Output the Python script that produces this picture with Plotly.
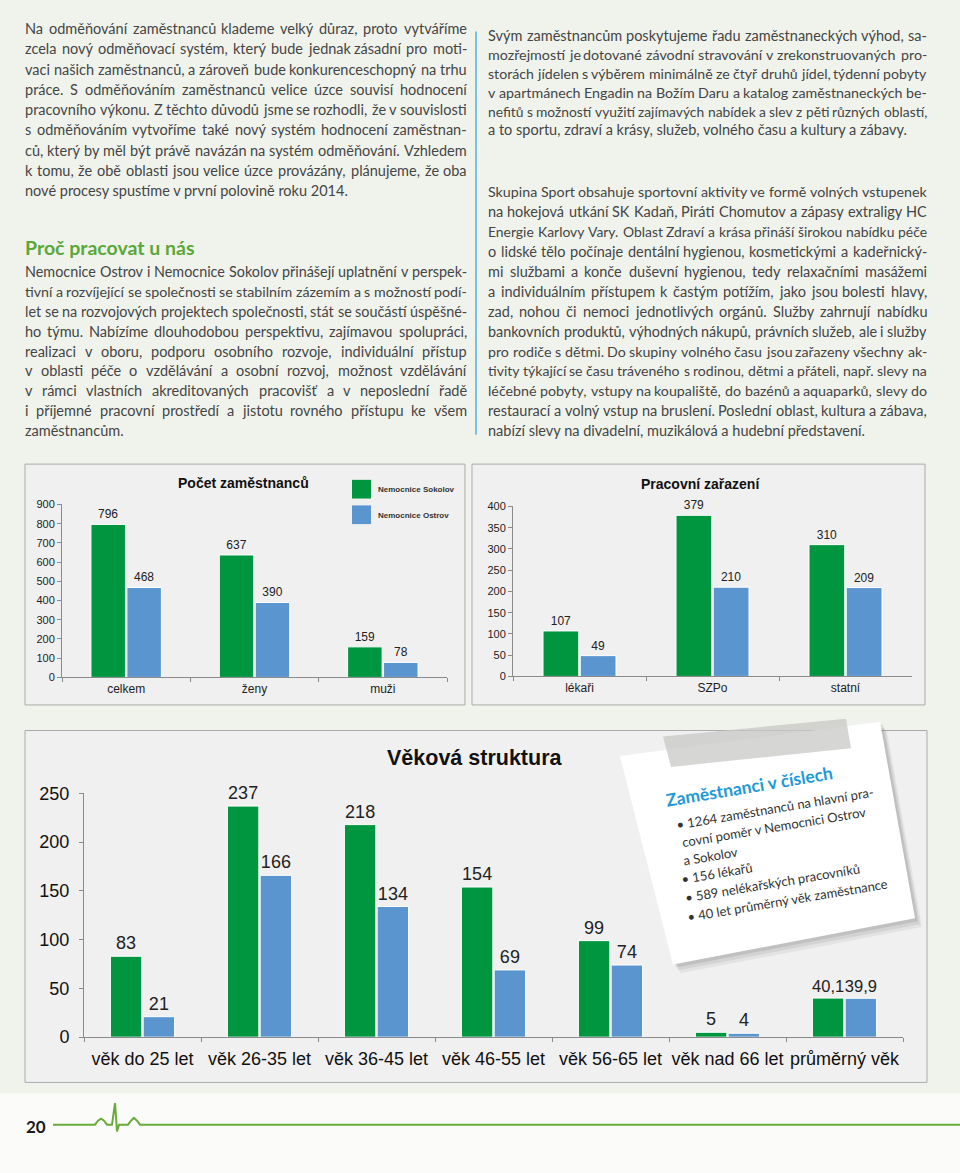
import math
import glob
import os
import struct
import subprocess
import plotly.graph_objects as go

W, H = 960, 1173

# ---------------- data ----------------
c1_categories = ["celkem", "ženy", "muži"]
c1_sokolov = [796, 637, 159]
c1_ostrov = [468, 390, 78]

c2_categories = ["lékaři", "SZPo", "statní"]
c2_sokolov = [107, 379, 310]
c2_ostrov = [49, 210, 209]

c3_categories = ["věk do 25 let", "věk 26-35 let", "věk 36-45 let", "věk 46-55 let",
                 "věk 56-65 let", "věk nad 66 let", "průměrný věk"]
c3_sokolov = [83, 237, 218, 154, 99, 5, 40.1]
c3_ostrov = [21, 166, 134, 69, 74, 4, 39.9]

series_names = ["Nemocnice Sokolov", "Nemocnice Ostrov"]

left_par1 = [
    "Na odměňování zaměstnanců klademe velký důraz, proto vytváříme",
    "zcela nový odměňovací systém, který bude jednak zásadní pro moti-",
    "vaci našich zaměstnanců, a zároveň bude konkurenceschopný na trhu",
    "práce. S odměňováním zaměstnanců velice úzce souvisí hodnocení",
    "pracovního výkonu. Z těchto důvodů jsme se rozhodli, že v souvislosti",
    "s odměňováním vytvoříme také nový systém hodnocení zaměstnan-",
    "ců, který by měl být právě navázán na systém odměňování. Vzhledem",
    "k tomu, že obě oblasti jsou velice úzce provázány, plánujeme, že oba",
    "nové procesy spustíme v první polovině roku 2014.",
]
left_heading = "Proč pracovat u nás"
left_par2 = [
    "Nemocnice Ostrov i Nemocnice Sokolov přinášejí uplatnění v perspek-",
    "tivní a rozvíjející se společnosti se stabilním zázemím a s možností podí-",
    "let se na rozvojových projektech společnosti, stát se součástí úspěšné-",
    "ho týmu. Nabízíme dlouhodobou perspektivu, zajímavou spolupráci,",
    "realizaci v oboru, podporu osobního rozvoje, individuální přístup",
    "v oblasti péče o vzdělávání a osobní rozvoj, možnost vzdělávání",
    "v rámci vlastních akreditovaných pracovišť a v neposlední řadě",
    "i příjemné pracovní prostředí a jistotu rovného přístupu ke všem",
    "zaměstnancům.",
]
right_par1 = [
    "Svým zaměstnancům poskytujeme řadu zaměstnaneckých výhod, sa-",
    "mozřejmostí je dotované závodní stravování v zrekonstruovaných pro-",
    "storách jídelen s výběrem minimálně ze čtyř druhů jídel, týdenní pobyty",
    "v apartmánech Engadin na Božím Daru a katalog zaměstnaneckých be-",
    "nefitů s možností využití zajímavých nabídek a slev z pěti různých oblastí,",
    "a to sportu, zdraví a krásy, služeb, volného času a kultury a zábavy.",
]
right_par2 = [
    "Skupina Sport obsahuje sportovní aktivity ve formě volných vstupenek",
    "na hokejová utkání SK Kadaň, Piráti Chomutov a zápasy extraligy HC",
    "Energie Karlovy Vary. Oblast Zdraví a krása přináší širokou nabídku péče",
    "o lidské tělo počínaje dentální hygienou, kosmetickými a kadeřnický-",
    "mi službami a konče duševní hygienou, tedy relaxačními masážemi",
    "a individuálním přístupem k častým potížím, jako jsou bolesti hlavy,",
    "zad, nohou či nemoci jednotlivých orgánů. Služby zahrnují nabídku",
    "bankovních produktů, výhodných nákupů, právních služeb, ale i služby",
    "pro rodiče s dětmi. Do skupiny volného času jsou zařazeny všechny ak-",
    "tivity týkající se času tráveného s rodinou, dětmi a přáteli, např. slevy na",
    "léčebné pobyty, vstupy na koupaliště, do bazénů a aquaparků, slevy do",
    "restaurací a volný vstup na bruslení. Poslední oblast, kultura a zábava,",
    "nabízí slevy na divadelní, muzikálová a hudební představení.",
]
note_title = "Zaměstnanci v číslech"
note_lines = [
    "• 1264 zaměstnanců na hlavní pra-",
    "covní poměr v Nemocnici Ostrov",
    "a Sokolov",
    "• 156 lékařů",
    "• 589 nelékařských pracovníků",
    "• 40 let průměrný věk zaměstnance",
]
chart_titles = ["Počet zaměstnanců", "Pracovní zařazení", "Věková struktura"]
page_number = "20"

# ---------------- styling ----------------
GREEN = "#00963f"
BLUE = "#5b95d0"
BG = "#eff3ec"
CHART_BG = "#f0f0f0"
AXIS = "#8a8a8a"
TEXT = "#454545"
ARIAL = "Liberation Sans"
BODY = "Lato"
BODY_SIZE = 14.5


def px(x):
    return x / W


def py(y):
    return 1 - y / H


def fmt(v):
    return str(v).replace(".", ",") if isinstance(v, float) else str(v)


# ---------- font metrics (for justified text) ----------
def parse_sfnt(path):
    data = open(path, "rb").read()
    off = struct.unpack(">I", data[12:16])[0] if data[:4] == b"ttcf" else 0
    num = struct.unpack(">H", data[off + 4:off + 6])[0]
    tables = {}
    for i in range(num):
        rec = data[off + 12 + 16 * i: off + 28 + 16 * i]
        tables[rec[:4].decode("latin1")] = struct.unpack(">III", rec[4:16])[1]
    head = tables["head"]
    upem = struct.unpack(">H", data[head + 18:head + 20])[0]
    hhea = tables["hhea"]
    nh = struct.unpack(">H", data[hhea + 34:hhea + 36])[0]
    hm = tables["hmtx"]
    adv = [struct.unpack(">H", data[hm + 4 * i:hm + 4 * i + 2])[0] for i in range(nh)]
    cm = tables["cmap"]
    nsub = struct.unpack(">H", data[cm + 2:cm + 4])[0]
    best = None
    for i in range(nsub):
        pid, eid, so = struct.unpack(">HHI", data[cm + 4 + 8 * i: cm + 12 + 8 * i])
        f = struct.unpack(">H", data[cm + so:cm + so + 2])[0]
        if pid in (0, 3) and f in (4, 12):
            if best is None or f == 12:
                best = (f, cm + so)
    f, s = best
    cache = {}
    if f == 4:
        seg2 = struct.unpack(">H", data[s + 6:s + 8])[0]
        n = seg2 // 2
        ends = struct.unpack(">%dH" % n, data[s + 14:s + 14 + seg2])
        starts = struct.unpack(">%dH" % n, data[s + 16 + seg2:s + 16 + 2 * seg2])
        deltas = struct.unpack(">%dh" % n, data[s + 16 + 2 * seg2:s + 16 + 3 * seg2])
        rpos = s + 16 + 3 * seg2
        roffs = struct.unpack(">%dH" % n, data[rpos:rpos + seg2])

        def glyph(c):
            for i in range(n):
                if starts[i] <= c <= ends[i]:
                    if roffs[i] == 0:
                        return (c + deltas[i]) & 0xFFFF
                    a = rpos + 2 * i + roffs[i] + 2 * (c - starts[i])
                    g = struct.unpack(">H", data[a:a + 2])[0]
                    return (g + deltas[i]) & 0xFFFF if g else 0
            return 0
    else:
        ng = struct.unpack(">I", data[s + 12:s + 16])[0]
        groups = [struct.unpack(">III", data[s + 16 + 12 * i:s + 28 + 12 * i]) for i in range(ng)]

        def glyph(c):
            for a, b, g in groups:
                if a <= c <= b:
                    return g + c - a
            return 0

    def width(text):
        tot = 0
        for ch in text:
            if ch not in cache:
                g = glyph(ord(ch))
                cache[ch] = adv[min(g, nh - 1)] / upem
            tot += cache[ch]
        return tot
    return width


def find_font():
    cands = []
    try:
        out = subprocess.run(["fc-match", "-f", "%{file}", "Lato:style=Regular"],
                             capture_output=True, text=True, timeout=10).stdout.strip()
        if out and "lato" in out.lower():
            cands.append(out)
    except Exception:
        pass
    for root in ("/usr/share/fonts", "/usr/local/share/fonts", os.path.expanduser("~/.fonts"),
                 os.path.expanduser("~/.local/share/fonts")):
        cands += glob.glob(os.path.join(root, "**", "Lato-Regular.*"), recursive=True)
        cands += glob.glob(os.path.join(root, "**", "Lato-Reg*.*"), recursive=True)
    for c in cands:
        try:
            w = parse_sfnt(c)
            if w("abc") > 0:
                return w
        except Exception:
            continue
    return None


measure = find_font()

fig = go.Figure()

charts = [
    ("x", "y", c1_categories, c1_sokolov, c1_ostrov, 12),
    ("x2", "y2", c2_categories, c2_sokolov, c2_ostrov, 12),
    ("x3", "y3", c3_categories, c3_sokolov, c3_ostrov, 18),
]
for xa, ya, cats, sok, ost, fs in charts:
    for vals, col, name in ((sok, GREEN, series_names[0]), (ost, BLUE, series_names[1])):
        sizes = [fs if not isinstance(v, float) else fs - 1.5 for v in vals]
        fig.add_trace(go.Bar(
            x=cats, y=vals, name=name, xaxis=xa, yaxis=ya,
            marker=dict(color=col, line=dict(color="white", width=1)),
            text=[fmt(v) for v in vals], textposition="outside",
            textfont=dict(family=ARIAL, size=sizes, color="#222222"),
            constraintext="none", cliponaxis=False, showlegend=False,
            offsetgroup=name,
        ))

common_x = dict(showline=True, linecolor=AXIS, linewidth=1, ticks="outside",
                tickson="boundaries", tickcolor=AXIS, ticklen=4, showgrid=False,
                fixedrange=True, tickangle=0)
common_y = dict(showline=True, linecolor=AXIS, linewidth=1, ticks="outside",
                tickcolor=AXIS, ticklen=4, showgrid=False, zeroline=False,
                fixedrange=True, tick0=0)

fig.update_layout(
    width=W, height=H, margin=dict(l=0, r=0, t=0, b=0),
    paper_bgcolor=BG, plot_bgcolor="rgba(0,0,0,0)",
    barmode="group", bargap=0.44, bargroupgap=0.04, showlegend=False,
    xaxis=dict(domain=[px(62), px(447)], anchor="y",
               tickfont=dict(family=ARIAL, size=12, color="#222"), **common_x),
    yaxis=dict(domain=[py(679), py(503)], anchor="x", range=[0, 900], dtick=100,
               tickfont=dict(family=ARIAL, size=11, color="#222"), **common_y),
    xaxis2=dict(domain=[px(513), px(912)], anchor="y2",
                tickfont=dict(family=ARIAL, size=12, color="#222"), **common_x),
    yaxis2=dict(domain=[py(678), py(505)], anchor="x2", range=[0, 400], dtick=50,
                tickfont=dict(family=ARIAL, size=11, color="#222"), **common_y),
    xaxis3=dict(domain=[px(84), px(903)], anchor="y3",
                tickfont=dict(family=ARIAL, size=18, color="#111"),
                ticklabelstandoff=5, **common_x),
    yaxis3=dict(domain=[py(1045), py(797)], anchor="x3", range=[0, 250], dtick=50,
                tickfont=dict(family=ARIAL, size=18, color="#111"),
                ticklabelstandoff=6, **common_y),
)

shapes = []
annotations = []


def rect(x0, y0, x1, y1, fill, line=None, lw=1, layer="below"):
    shapes.append(dict(type="rect", xref="paper", yref="paper",
                       x0=px(x0), x1=px(x1), y0=py(y1), y1=py(y0),
                       fillcolor=fill, line=dict(color=line or fill, width=lw if line else 0),
                       layer=layer))


def poly(points, fill, line=None, lw=0, layer="above"):
    d = "M " + " L ".join(f"{px(a):.5f},{py(b):.5f}" for a, b in points) + " Z"
    shapes.append(dict(type="path", xref="paper", yref="paper", path=d,
                       fillcolor=fill, line=dict(color=line or "rgba(0,0,0,0)", width=lw),
                       layer=layer))


def txt(x, y, s, size, color=TEXT, family=BODY, bold=False, xanchor="left",
        yanchor="middle", angle=0, pad=1):
    annotations.append(dict(xref="paper", yref="paper", x=px(x), y=py(y), text=s,
                            showarrow=False, xanchor=xanchor, yanchor=yanchor,
                            textangle=angle, borderpad=pad, borderwidth=0,
                            font=dict(family=family, size=size, color=color,
                                      weight="bold" if bold else "normal")))


MIN_GAP_EM = 0.24


def paragraph(lines, x0, x1, y0, step):
    for i, line in enumerate(lines):
        y = y0 + i * step
        last = i == len(lines) - 1
        words = line.split(" ")
        if measure is None or last or len(words) < 2:
            txt(x0, y, line, BODY_SIZE, pad=0)
            continue
        em = [measure(w) for w in words]
        size = min(BODY_SIZE, (x1 - x0) / (sum(em) + (len(words) - 1) * MIN_GAP_EM))
        widths = [e * size for e in em]
        gap = (x1 - x0 - sum(widths)) / (len(words) - 1)
        x = x0
        for j, w in enumerate(words):
            if j == len(words) - 1:
                txt(x1, y, w, size, xanchor="right", pad=0)
            else:
                txt(x, y, w, size, pad=0)
            x += widths[j] + gap


# page areas
rect(0, 1102, 960, 1200, "#fbfcfa")
# chart boxes
rect(25, 462, 465, 707, CHART_BG, "#ababab")
rect(472, 462, 925, 707, CHART_BG, "#ababab")
rect(25, 733, 927, 1091, CHART_BG, "#ababab")

# column divider
shapes.append(dict(type="line", xref="paper", yref="paper", x0=px(476), x1=px(476),
                   y0=py(22), y1=py(432), line=dict(color="#55b0d6", width=1.5)))

# paragraphs
paragraph(left_par1, 25, 467, 19, 20.6)
txt(25, 242, left_heading, 19.5, color="#5aa83a", bold=True, pad=0)
paragraph(left_par2, 25, 467, 266, 20.25)
paragraph(right_par1, 488, 927, 26, 19.2)
paragraph(right_par2, 488, 927, 185, 20.25)

# chart titles
txt(243, 481, chart_titles[0], 14, color="#111", family=ARIAL, bold=True, xanchor="center")
txt(700, 482, chart_titles[1], 14, color="#111", family=ARIAL, bold=True, xanchor="center")
txt(475, 761, chart_titles[2], 21.5, color="#111", family=ARIAL, bold=True, xanchor="center")

# legend for chart 1
rect(352, 478, 371, 497, GREEN)
rect(352, 504, 371, 523, BLUE)
txt(377, 488, series_names[0], 8, color="#333", family=ARIAL, bold=True)
txt(377, 514, series_names[1], 8, color="#333", family=ARIAL, bold=True)

# note card with shadow and tape
card = [(620, 759), (880, 724), (915, 924), (673, 971)]
for dx, dy, op in ((7, 9, 0.05), (5, 6, 0.07), (3, 3, 0.09)):
    poly([(a + dx, b + dy) for a, b in card], f"rgba(0,0,0,{op})")
poly(card, "#ffffff")
poly([(663, 739), (846, 721), (851, 751), (671, 770)], "rgba(200,200,197,0.75)")

ang = 9.5
sa, ca = math.sin(math.radians(ang)), math.cos(math.radians(ang))


def note(xl, yc, s, size, color, bold=False):
    h = size * 1.3
    txt(xl + h / 2 * sa, yc + h / 2 * ca, s, size, color=color, bold=bold,
        yanchor="bottom", angle=-ang)


note(661, 805, note_title, 17.5, "#1d9ad6", bold=True)
note_pos = [(673, 829), (678, 848), (680, 866), (678, 885), (681, 904), (684, 923)]
for (xl, yc), s in zip(note_pos, note_lines):
    note(xl, yc, s, 13, "#333333")

# footer
txt(25, 1136, page_number, 17, color="#1a1a1a", bold=True)
ecg = [(53, 1134), (95, 1134), (98, 1130), (101, 1128), (104, 1130), (107, 1134),
       (112, 1134), (115, 1112), (117, 1141), (119, 1134), (128, 1134), (131, 1130),
       (134, 1127), (137, 1130), (140, 1134), (960, 1134)]
d = "M " + " L ".join(f"{px(a):.5f},{py(b):.5f}" for a, b in ecg)
shapes.append(dict(type="path", xref="paper", yref="paper", path=d,
                   line=dict(color="#6aaa3c", width=2), layer="above"))

fig.update_layout(shapes=shapes, annotations=annotations)
fig.write_html("out.html", config={"displayModeBar": False},
               post_script="document.body.style.margin='0';"
               "document.body.style.overflow='hidden';")
